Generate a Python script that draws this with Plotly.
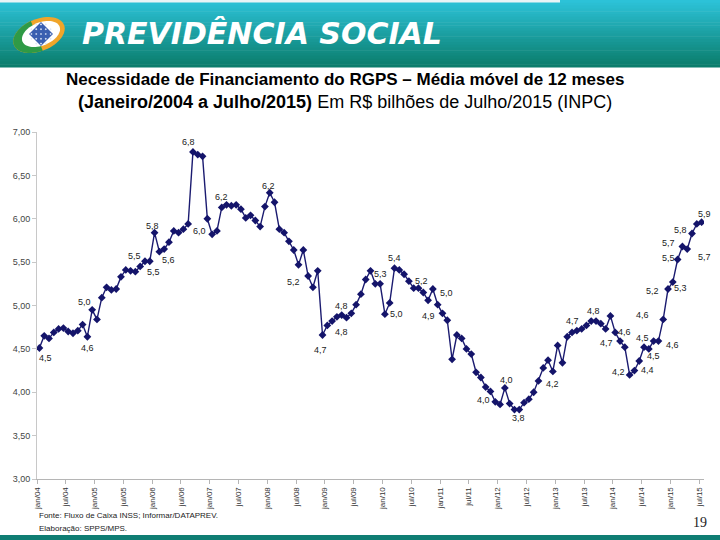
import math
import plotly.graph_objects as go

# 12-month moving average, R$ billions (Jul/2015 INPC), Jan/2004 .. Jul/2015
valores = [
    4.51, 4.65, 4.62, 4.69, 4.73, 4.74, 4.70, 4.68, 4.71, 4.78, 4.64, 4.95,
    4.84, 5.09, 5.21, 5.18, 5.19, 5.33, 5.41, 5.40, 5.39, 5.45, 5.51, 5.51,
    5.84, 5.62, 5.65, 5.73, 5.86, 5.84, 5.88, 5.94, 6.77, 6.74, 6.72, 6.00,
    5.82, 5.86, 6.13, 6.16, 6.15, 6.16, 6.11, 6.01, 6.04, 5.98, 5.91, 6.14,
    6.30, 6.19, 5.88, 5.84, 5.74, 5.64, 5.47, 5.64, 5.34, 5.21, 5.40, 4.66,
    4.77, 4.82, 4.87, 4.89, 4.86, 4.91, 5.01, 5.13, 5.30, 5.40, 5.25, 5.25,
    4.90, 5.03, 5.43, 5.41, 5.36, 5.28, 5.20, 5.20, 5.15, 5.06, 5.19, 5.01,
    4.91, 4.83, 4.38, 4.66, 4.62, 4.50, 4.44, 4.23, 4.17, 4.06, 4.01, 3.89,
    3.86, 4.05, 3.87, 3.80, 3.80, 3.88, 3.92, 4.00, 4.13, 4.28, 4.37, 4.24,
    4.54, 4.34, 4.64, 4.69, 4.71, 4.73, 4.77, 4.82, 4.82, 4.79, 4.73, 4.88,
    4.69, 4.59, 4.52, 4.20, 4.25, 4.36, 4.52, 4.50, 4.59, 4.59, 4.84, 5.19,
    5.27, 5.53, 5.68, 5.65, 5.83, 5.94, 5.96,
]
meses = list(range(len(valores)))

tick_labels = [
    "jan/04", "jul/04", "jan/05", "jul/05", "jan/06", "jul/06", "jan/07", "jul/07",
    "jan/08", "jul/08", "jan/09", "jul/09", "jan/10", "jul/10", "jan/11", "jul/11",
    "jan/12", "jul/12", "jan/13", "jul/13", "jan/14", "jul/14", "jan/15", "jul/15",
]

# data labels shown on the chart (month index, text)
lbl_idx = [0, 10, 11, 22, 23, 24, 25, 32, 35, 38, 48, 54, 59, 63, 63, 70, 72, 74,
           79, 82, 81, 95, 97, 100, 107, 111, 115, 118, 121, 123, 125, 126, 127,
           129, 130, 131, 132, 133, 134, 136, 135, 138]
lbl_txt = ["4,5", "4,6", "5,0", "5,5", "5,5", "5,8", "5,6", "6,8", "6,0", "6,2",
           "6,2", "5,2", "4,7", "4,8", "4,8", "5,3", "5,0", "5,4", "5,2", "5,0",
           "4,9", "4,0", "4,0", "3,8", "4,2", "4,7", "4,8", "4,7", "4,6", "4,2",
           "4,4", "4,5", "4,5", "4,6", "4,6", "5,2", "5,3", "5,5", "5,7", "5,8",
           "5,7", "5,9"]
# pixel offsets of each label from its point (dx right, dy down)
lbl_off = [(6, 10), (0, 11), (-8, -8), (-10, -5), (4, 11), (-2, -7), (9, 8),
           (-4, -10), (-8, 12), (0, -10), (-1, -7), (-5, 17), (-2, 15), (0, -9),
           (0, 17), (5, -10), (12, 0), (0, -10), (3, -7), (14, 4), (0, 16),
           (-12, -2), (2, -8), (-1, 8), (0, 13), (0, -11), (2, -10), (1, 14),
           (4, -9), (-11, -3), (8, 9), (-2, -9), (5, 7), (14, 4), (-21, -4),
           (-16, 2), (8, 6), (-9, -2), (-14, -4), (-12, -4), (17, 8), (3, -8)]

W, H = 720, 540
ML, MR, MT, MB = 37, 16, 132, 61
PW, PH = W - ML - MR, H - MT - MB


def px(x):
    return (x - ML) / PW


def py(y):
    return (H - MB - y) / PH


def pt(x, y):
    return f"{px(x):.5f},{py(y):.5f}"


fig = go.Figure()
fig.add_trace(go.Scatter(
    x=meses, y=valores, mode="lines+markers",
    line=dict(color="#1b1b70", width=1.4),
    marker=dict(symbol="diamond", size=6, color="#14146a"),
    hoverinfo="y", showlegend=False,
))

shapes = []

# header band with vertical gradient
top_c = (44, 194, 216)
bot_c = (11, 125, 108)
n = 24
y0, y1 = 0, 67
for i in range(n):
    t = i / (n - 1)
    c = tuple(round(top_c[j] + (bot_c[j] - top_c[j]) * t) for j in range(3))
    ya = y0 + (y1 - y0) * i / n
    yb = y0 + (y1 - y0) * (i + 1) / n + 0.5
    shapes.append(dict(type="rect", xref="paper", yref="paper",
                       x0=px(0), x1=px(W), y0=py(yb), y1=py(ya),
                       fillcolor=f"rgb{c}", line=dict(width=0), layer="below"))
shapes.append(dict(type="rect", xref="paper", yref="paper",
                   x0=px(0), x1=px(560), y0=py(2.5), y1=py(0),
                   fillcolor="#e8f4f6", line=dict(width=0)))
# bottom band
shapes.append(dict(type="rect", xref="paper", yref="paper",
                   x0=px(0), x1=px(W), y0=py(H), y1=py(535),
                   fillcolor="#0f7d73", line=dict(width=0)))


# logo: tilted ellipse, green/orange halves, white inner, blue diamond
def ellipse_pts(cx, cy, a, b, rot, a0=0, a1=360, steps=60):
    r = math.radians(rot)
    out = []
    for s in range(steps + 1):
        th = math.radians(a0 + (a1 - a0) * s / steps)
        ex, ey = a * math.cos(th), b * math.sin(th)
        out.append((cx + ex * math.cos(r) - ey * math.sin(r),
                    cy + ex * math.sin(r) + ey * math.cos(r)))
    return out


def path_of(points):
    return "M " + " L ".join(pt(x, y) for x, y in points) + " Z"


shapes.append(dict(type="path", xref="paper", yref="paper",
                   path=path_of(ellipse_pts(39, 35, 27, 16, -22)),
                   fillcolor="#f0a52a", line=dict(width=0)))
shapes.append(dict(type="path", xref="paper", yref="paper",
                   path=path_of(ellipse_pts(39, 35, 27, 16, -22, 95, 265)),
                   fillcolor="#2f9a46", line=dict(width=0)))
shapes.append(dict(type="path", xref="paper", yref="paper",
                   path=path_of(ellipse_pts(41, 34, 20, 11.5, -22)),
                   fillcolor="#ffffff", line=dict(width=0)))
dc = (41, 34)
ds = 12
shapes.append(dict(type="path", xref="paper", yref="paper",
                   path=path_of([(dc[0], dc[1] - ds), (dc[0] + ds, dc[1]),
                                 (dc[0], dc[1] + ds), (dc[0] - ds, dc[1])]),
                   fillcolor="#3a5fb0", line=dict(width=0)))
for i in range(-3, 4):
    for j in range(-3, 4):
        if (i + j) % 2 == 0 and abs(i) + abs(j) <= 4:
            cx = dc[0] + (i - j) * 2.4
            cy = dc[1] + (i + j) * 2.4
            q = 1.1
            shapes.append(dict(type="path", xref="paper", yref="paper",
                               path=path_of([(cx, cy - q), (cx + q, cy),
                                             (cx, cy + q), (cx - q, cy)]),
                               fillcolor="#dfe8f7", line=dict(width=0)))

annotations = []
for k, txt, (dx, dy) in zip(lbl_idx, lbl_txt, lbl_off):
    annotations.append(dict(x=meses[k], y=valores[k], xref="x", yref="y",
                            text=txt, showarrow=False, xshift=dx, yshift=-dy,
                            font=dict(family="Liberation Sans, Arial", size=9,
                                      color="#222222")))

annotations += [
    dict(x=px(80), y=py(34), xref="paper", yref="paper", xanchor="left",
         yanchor="middle", showarrow=False, text="<b><i>PREVIDÊNCIA SOCIAL</i></b>",
         font=dict(family="DejaVu Sans", size=30, color="#ffffff")),
    dict(x=px(345), y=py(79), xref="paper", yref="paper", xanchor="center",
         yanchor="middle", showarrow=False,
         text="<b>Necessidade de Financiamento do RGPS – Média móvel de 12 meses</b>",
         font=dict(family="Liberation Sans, Arial", size=17, color="#000000")),
    dict(x=px(345), y=py(102), xref="paper", yref="paper", xanchor="center",
         yanchor="middle", showarrow=False,
         text="<b>(Janeiro/2004 a Julho/2015)</b> Em R$ bilhões de Julho/2015 (INPC)",
         font=dict(family="Liberation Sans, Arial", size=18, color="#000000")),
    dict(x=px(37), y=py(515), xref="paper", yref="paper", xanchor="left",
         yanchor="middle", showarrow=False,
         text="Fonte: Fluxo de Caixa INSS; Informar/DATAPREV.",
         font=dict(family="Liberation Sans, Arial", size=8, color="#222222")),
    dict(x=px(37), y=py(528), xref="paper", yref="paper", xanchor="left",
         yanchor="middle", showarrow=False, text="Elaboração: SPPS/MPS.",
         font=dict(family="Liberation Sans, Arial", size=8, color="#222222")),
    dict(x=px(700), y=py(522), xref="paper", yref="paper", xanchor="center",
         yanchor="middle", showarrow=False, text="19",
         font=dict(family="Liberation Serif", size=14, color="#222222")),
]

fig.update_layout(
    width=W, height=H,
    margin=dict(l=ML, r=MR, t=MT, b=MB, pad=0),
    paper_bgcolor="#ffffff", plot_bgcolor="#ffffff",
    separators=",.",
    shapes=shapes, annotations=annotations,
    font=dict(family="Liberation Sans, Arial", size=9, color="#333333"),
)
fig.update_xaxes(
    range=[-0.5, len(valores) - 0.5],
    tickmode="array",
    tickvals=[6 * i - 0.5 for i in range(len(tick_labels))],
    ticktext=tick_labels, tickangle=-90,
    showgrid=False, zeroline=False,
    showline=True, linecolor="#b5b5b5", linewidth=1,
    ticks="outside", ticklen=4, tickcolor="#b5b5b5",
    tickfont=dict(size=8, color="#333333"),
)
fig.update_yaxes(
    range=[3, 7], dtick=0.5, tickformat=".2f",
    showgrid=False, zeroline=False,
    showline=True, linecolor="#c8c8c8", linewidth=1,
    ticks="outside", ticklen=4, tickcolor="#c8c8c8",
    tickfont=dict(size=9, color="#444444"),
)

# remove the default page margin so the 720x540 figure fills the window
fig.write_html("out.html", config={"displayModeBar": False},
               post_script="document.body.style.margin='0';")
